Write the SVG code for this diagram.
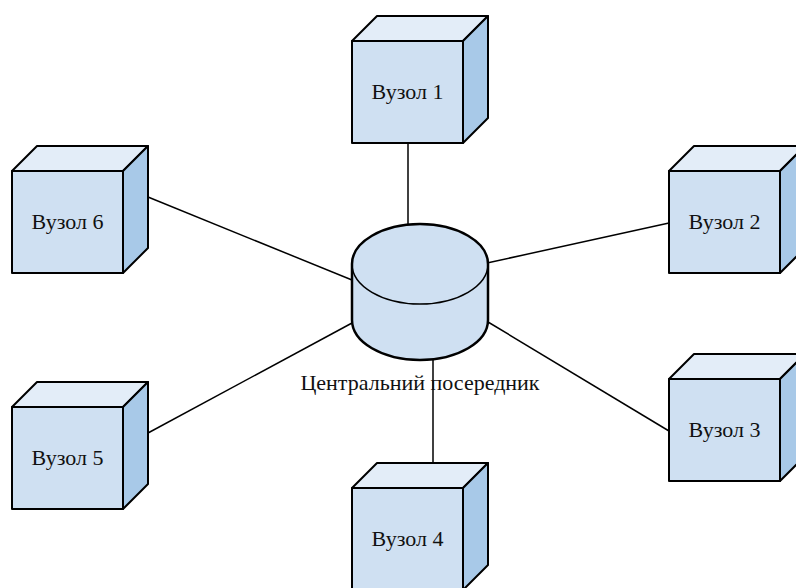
<svg xmlns="http://www.w3.org/2000/svg" width="796" height="588" viewBox="0 0 796 588">
  <style>
    .front { fill: #cfe0f2; stroke: #000; stroke-width: 2; stroke-linejoin: round; }
    .top { fill: #e3edf8; stroke: #000; stroke-width: 2; stroke-linejoin: round; }
    .side { fill: #a8c9e8; stroke: #000; stroke-width: 2; stroke-linejoin: round; }
    .drum { fill: #cfe0f2; stroke: #000; stroke-width: 2.5; }
    .rim { fill: none; stroke: #000; stroke-width: 1.5; }
    .link { stroke: #000; stroke-width: 1.5; fill: none; }
    text { font-family: "Liberation Serif", "Times New Roman", serif; font-size: 22px; fill: #111; }
    .lbl { text-anchor: middle; }
  </style>
  <defs>
    <!-- cube with front face at (0,0), 111 x 102, depth 25 -->
    <g id="cube">
      <polygon class="top" points="0,0 25,-25 136,-25 111,0"/>
      <polygon class="side" points="111,0 136,-25 136,77 111,102"/>
      <rect class="front" x="0" y="0" width="111" height="102"/>
    </g>
  </defs>

  <g id="connectors">
    <line class="link" x1="408" y1="143" x2="408" y2="224"/>
    <line class="link" x1="487" y1="263" x2="669" y2="223"/>
    <line class="link" x1="488" y1="322" x2="669" y2="431"/>
    <line class="link" x1="433" y1="360" x2="433" y2="463"/>
    <line class="link" x1="148" y1="433" x2="352" y2="323"/>
    <line class="link" x1="148" y1="197" x2="352" y2="280"/>
  </g>

  <g id="broker">
    <path class="drum" d="M352,264 L352,320 A68,40 0 0 0 488,320 L488,264 A68,40 0 0 0 352,264 Z"/>
    <path class="rim" d="M352,264 A68,40 0 0 0 488,264"/>
    <text class="lbl" x="420" y="390">Центральний посередник</text>
  </g>

  <g id="node1">
    <use href="#cube" x="352" y="41"/>
    <text class="lbl" x="407.5" y="98.5">Вузол 1</text>
  </g>
  <g id="node2">
    <use href="#cube" x="669" y="171"/>
    <text class="lbl" x="724.5" y="228.5">Вузол 2</text>
  </g>
  <g id="node3">
    <use href="#cube" x="669" y="379"/>
    <text class="lbl" x="724.5" y="436.5">Вузол 3</text>
  </g>
  <g id="node4">
    <use href="#cube" x="352" y="488"/>
    <text class="lbl" x="407.5" y="545.5">Вузол 4</text>
  </g>
  <g id="node5">
    <use href="#cube" x="12" y="407"/>
    <text class="lbl" x="67.5" y="464.5">Вузол 5</text>
  </g>
  <g id="node6">
    <use href="#cube" x="12" y="171"/>
    <text class="lbl" x="67.5" y="228.5">Вузол 6</text>
  </g>
</svg>
